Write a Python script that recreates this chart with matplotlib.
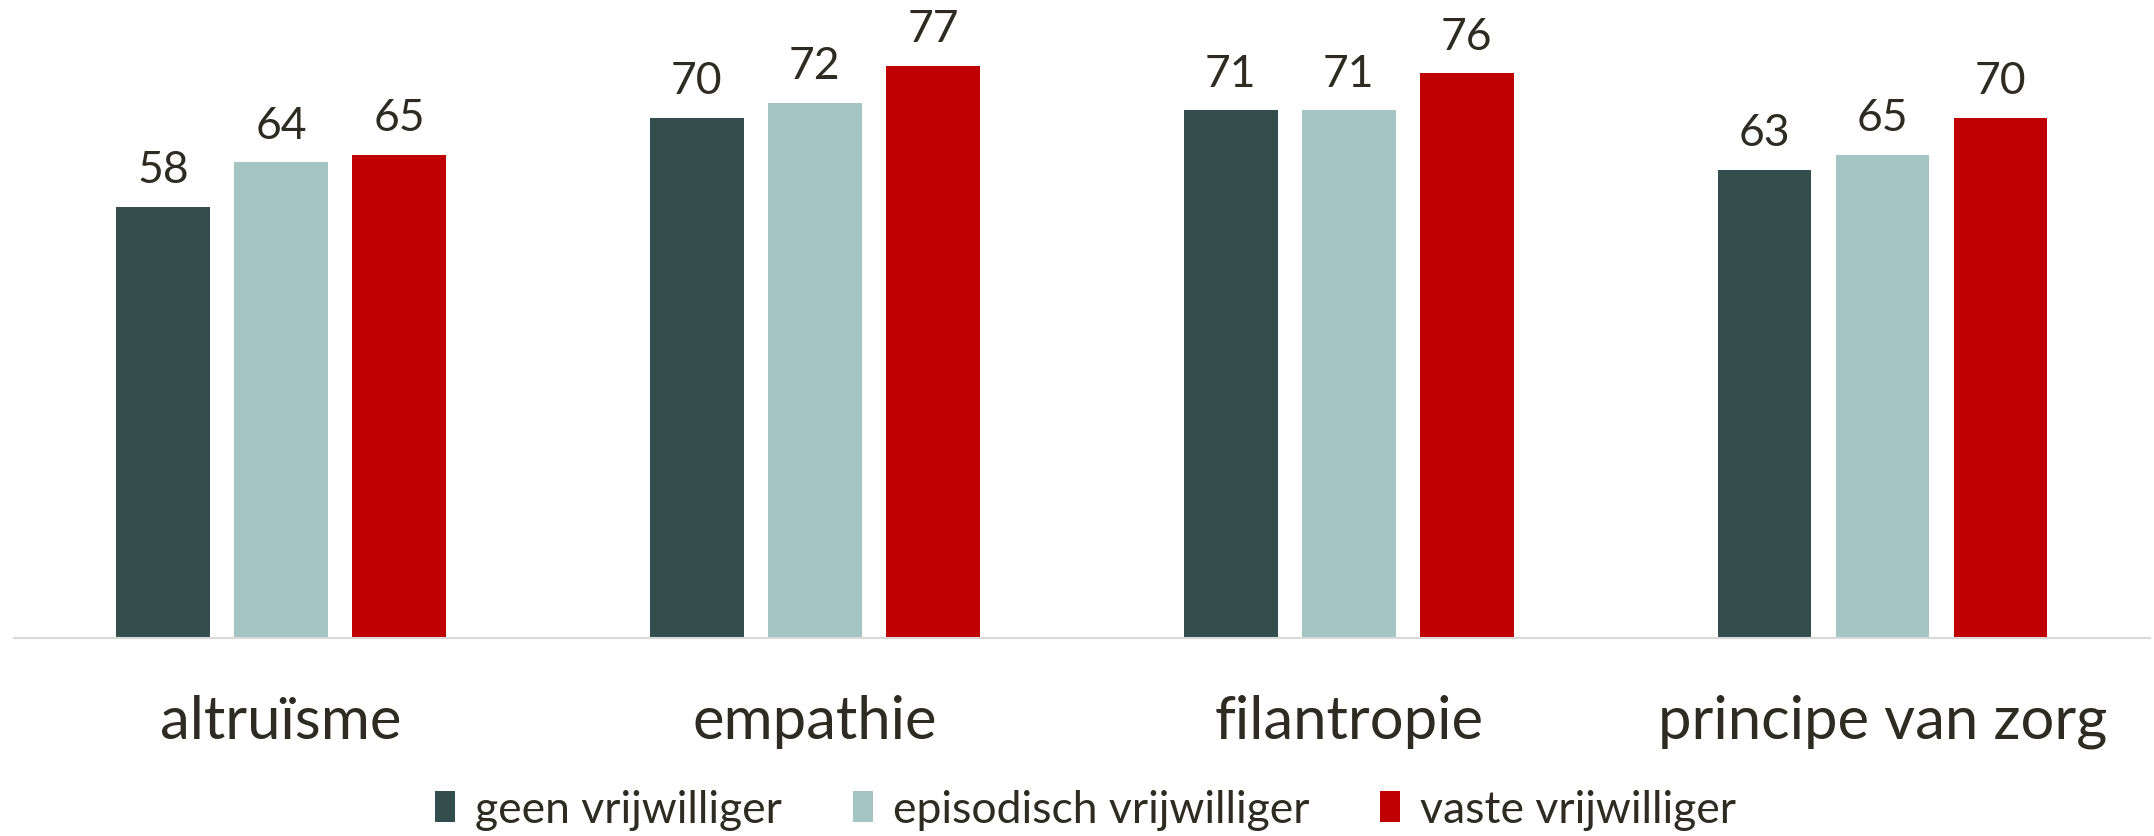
import matplotlib
matplotlib.use("Agg")
import matplotlib.pyplot as plt
import numpy as np

categories = ["altruïsme", "empathie", "filantropie", "principe van zorg"]
series_names = ["geen vrijwilliger", "episodisch vrijwilliger", "vaste vrijwilliger"]
geen = [58, 70, 71, 63]
episodisch = [64, 72, 71, 65]
vaste = [65, 77, 76, 70]
colors = ["#344E4E", "#A5C4C4", "#C00000"]
text_color = "#2E2B22"

plt.rcParams['font.family'] = ['Lato', 'DejaVu Sans']

fig = plt.figure(figsize=(21.54, 8.37), dpi=100)
ax = fig.add_axes([0.0065, 0.2366, 0.9915, 0.7634])

x = np.arange(len(categories))
width = 0.175
pitch = 0.221
for i, (vals, name, col) in enumerate(zip([geen, episodisch, vaste], series_names, colors)):
    bars = ax.bar(x + (i - 1) * pitch, vals, width, color=col, label=name)
    for b, v in zip(bars, vals):
        ax.annotate(f"{v}", (b.get_x() + b.get_width() / 2, v), xytext=(0, 12),
                    textcoords="offset points", ha="center", va="bottom",
                    fontsize=32, color=text_color)

ax.set_xlim(-0.5, 3.5)
ax.set_ylim(0, 86)
ax.set_xticks(x)
ax.set_xticklabels(categories, fontsize=43, color=text_color)
ax.tick_params(axis='x', length=0, pad=40)
ax.set_yticks([])
for s in ["top", "right", "left"]:
    ax.spines[s].set_visible(False)
ax.spines["bottom"].set_color("#D9D9D9")
ax.spines["bottom"].set_linewidth(1.5)

fig.legend(loc="center", bbox_to_anchor=(0.504, 0.032), ncol=3, frameon=False,
           fontsize=32, labelcolor=text_color, handlelength=0.45, handleheight=0.7,
           handletextpad=0.45, columnspacing=1.6)

fig.savefig("out.png", dpi=100)
